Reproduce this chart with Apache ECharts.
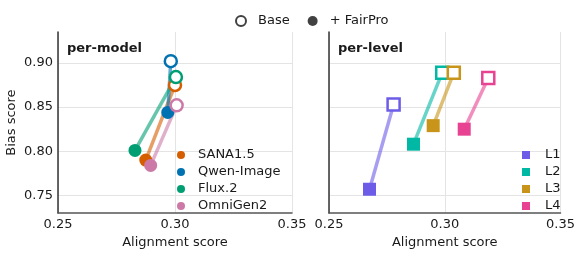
<!DOCTYPE html>
<html>
<head>
<meta charset="utf-8">
<script src="https://cdn.jsdelivr.net/npm/echarts@6/dist/echarts.min.js"></script>
<style>
  html, body { margin: 0; padding: 0; background: #fff; }
  #chart { width: 578px; height: 254px; }
</style>
</head>
<body>
<div id="chart"></div>
<script>
"use strict";

// per-model panel: [alignment, bias]
var models = ['SANA1.5', 'Qwen-Image', 'Flux.2', 'OmniGen2'];
var modelColors = ['#d55e00', '#0072b2', '#009e73', '#cc79a7'];
var modelBase = [[0.3000, 0.875], [0.2982, 0.902], [0.3004, 0.884], [0.3007, 0.852]];
var modelFair = [[0.2875, 0.790], [0.2969, 0.844], [0.2829, 0.801], [0.2896, 0.784]];

// per-level panel
var levels = ['L1', 'L2', 'L3', 'L4'];
var levelColors = ['#6c5ce7', '#00b8a3', '#c8951a', '#e84393'];
var levelBase = [[0.2779, 0.853], [0.2989, 0.889], [0.3039, 0.889], [0.3188, 0.883]];
var levelFair = [[0.2675, 0.757], [0.2865, 0.808], [0.2950, 0.829], [0.3084, 0.825]];

var xTicks = [0.25, 0.30, 0.35];
var yTicks = [0.75, 0.80, 0.85, 0.90];

var FONT = 'DejaVu Sans';
var FS = 13;
var TXT = '#1a1a1a';

var chart = echarts.init(document.getElementById('chart'), null, { renderer: 'canvas' });

function makeX(idx, name) {
    return {
        gridIndex: idx, type: 'value', min: 0.25, max: 0.35, interval: 0.05,
        name: name, nameLocation: 'middle', nameGap: 19,
        nameTextStyle: { fontFamily: FONT, fontSize: FS, color: TXT },
        axisLine: { show: true, onZero: false, lineStyle: { color: '#555', width: 1.5 } },
        axisTick: { show: false },
        axisLabel: { fontFamily: FONT, fontSize: FS, color: TXT, margin: 5,
            formatter: function (v) { return v.toFixed(2); } },
        splitLine: { show: true, lineStyle: { color: '#e4e4e4', width: 1 } }
    };
}

function makeY(idx, name, showLabels) {
    return {
        gridIndex: idx, type: 'value', min: 0.73, max: 0.935,
        name: name, nameLocation: 'middle', nameGap: 40,
        nameTextStyle: { fontFamily: FONT, fontSize: FS, color: TXT },
        axisLine: { show: true, onZero: false, lineStyle: { color: '#333', width: 1.5 } },
        axisTick: { show: false, customValues: yTicks },
        axisLabel: { show: showLabels, customValues: yTicks, fontFamily: FONT, fontSize: FS,
            color: TXT, margin: 5, formatter: function (v) { return v.toFixed(2); } },
        splitLine: { show: true, lineStyle: { color: '#e4e4e4', width: 1 } }
    };
}

var series = [];

function addPanel(idx, names, colors, base, fair, symbol) {
    var i;
    for (i = 0; i < names.length; i++) {
        series.push({
            name: names[i] + ' link', type: 'line', xAxisIndex: idx, yAxisIndex: idx,
            data: [base[i], fair[i]], showSymbol: false, silent: true, z: 2,
            lineStyle: { color: colors[i], width: 3.5, opacity: 0.6 }
        });
    }
    for (i = 0; i < names.length; i++) {
        series.push({
            name: names[i], type: 'scatter', xAxisIndex: idx, yAxisIndex: idx, z: 3,
            symbol: symbol,
            itemStyle: { color: colors[i], opacity: 1 },
            data: [
                { value: base[i], symbolSize: 12,
                  itemStyle: { color: '#fff', borderColor: colors[i], borderWidth: 2.5 } },
                { value: fair[i], symbolSize: 13 }
            ]
        });
    }
}

addPanel(0, models, modelColors, modelBase, modelFair, 'circle');
addPanel(1, levels, levelColors, levelBase, levelFair, 'rect');

// dummy series for the top legend
series.push({
    name: 'Base', type: 'scatter', xAxisIndex: 0, yAxisIndex: 0, data: [],
    itemStyle: { color: '#fff', borderColor: '#111', borderWidth: 2 }
});
series.push({
    name: '+ FairPro', type: 'scatter', xAxisIndex: 0, yAxisIndex: 0, data: [],
    itemStyle: { color: '#111' }
});

var legendText = { fontFamily: FONT, fontSize: FS, color: TXT, lineHeight: 14 };

var option = {
    backgroundColor: '#fff',
    animation: false,
    title: [
        { text: 'per-model', left: 62, top: 37,
          textStyle: { fontFamily: FONT, fontSize: FS, fontWeight: 'bold', color: TXT } },
        { text: 'per-level', left: 333, top: 37,
          textStyle: { fontFamily: FONT, fontSize: FS, fontWeight: 'bold', color: TXT } }
    ],
    grid: [
        { left: 58, top: 32, width: 234, height: 185 },
        { left: 329, top: 32, width: 234, height: 185 }
    ],
    xAxis: [makeX(0, 'Alignment score'), makeX(1, 'Alignment score')],
    yAxis: [makeY(0, 'Bias score', true), makeY(1, '', false)],
    legend: [
        { data: ['Base', '+ FairPro'], left: 230, top: 9, icon: 'circle',
          itemWidth: 24, itemHeight: 10, itemGap: 18, textStyle: legendText },
        { data: models, left: 172, top: 143, orient: 'vertical', icon: 'circle',
          itemWidth: 24, itemHeight: 8, itemGap: 3, textStyle: legendText },
        { data: levels, left: 517, top: 143, orient: 'vertical', icon: 'square',
          itemWidth: 18, itemHeight: 8, itemGap: 3, textStyle: legendText }
    ],
    series: series
};

chart.setOption(option);
</script>
</body>
</html>
